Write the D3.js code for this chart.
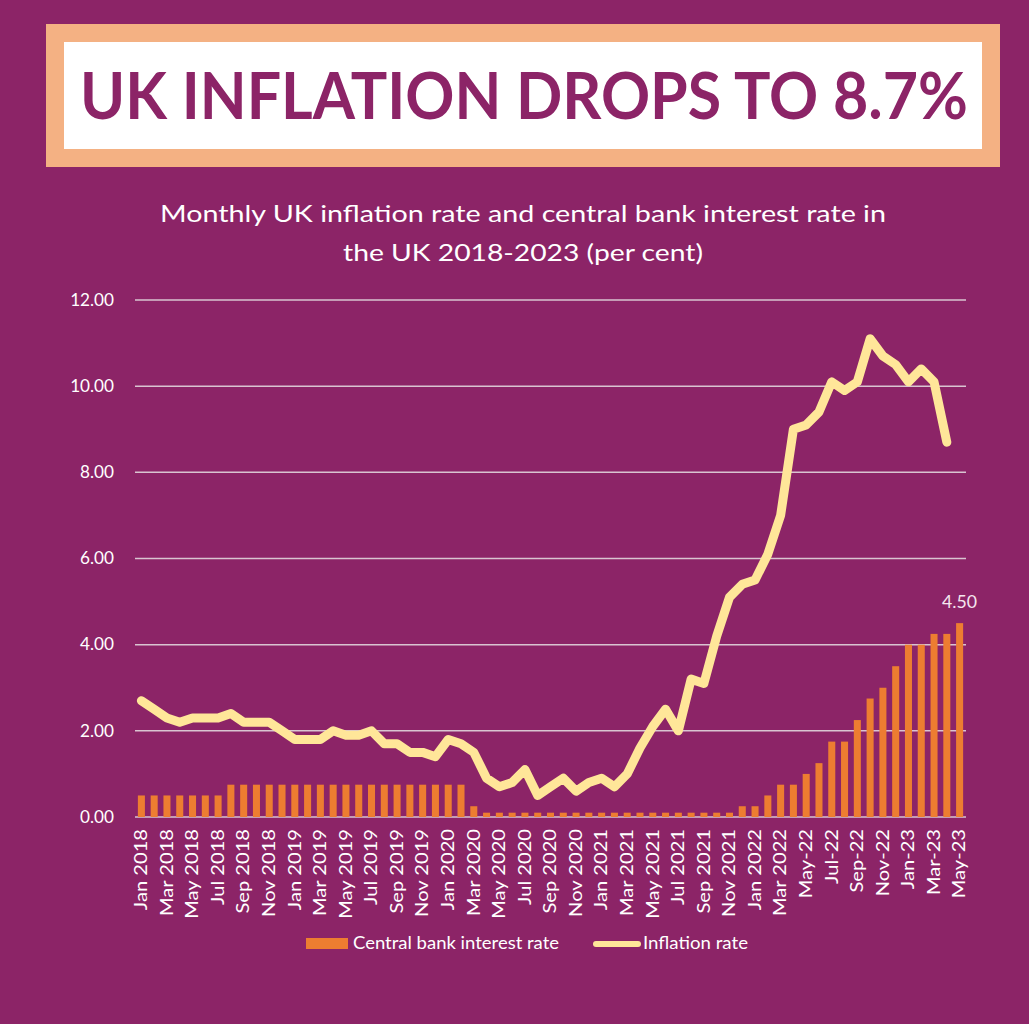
<!DOCTYPE html>
<html>
<head>
<meta charset="utf-8">
<script src="https://cdn.jsdelivr.net/npm/d3@7"></script>
<style>
  html, body { margin: 0; padding: 0; background: #8C2467; }
  svg { display: block; }
</style>
</head>
<body>
<svg id="chart" width="1029" height="1024"></svg>
<script>
const categories = [
  "Jan 2018","Feb 2018","Mar 2018","Apr 2018","May 2018","Jun 2018","Jul 2018","Aug 2018","Sep 2018","Oct 2018","Nov 2018","Dec 2018",
  "Jan 2019","Feb 2019","Mar 2019","Apr 2019","May 2019","Jun 2019","Jul 2019","Aug 2019","Sep 2019","Oct 2019","Nov 2019","Dec 2019",
  "Jan 2020","Feb 2020","Mar 2020","Apr 2020","May 2020","Jun 2020","Jul 2020","Aug 2020","Sep 2020","Oct 2020","Nov 2020","Dec 2020",
  "Jan 2021","Feb 2021","Mar 2021","Apr 2021","May 2021","Jun 2021","Jul 2021","Aug 2021","Sep 2021","Oct 2021","Nov 2021","Dec 2021",
  "Jan 2022","Feb 2022","Mar 2022","Apr-22","May-22","Jun-22","Jul-22","Aug-22","Sep-22","Oct-22","Nov-22","Dec-22",
  "Jan-23","Feb-23","Mar-23","Apr-23","May-23"
];
const tickLabels = [
  "Jan 2018","Mar 2018","May 2018","Jul 2018","Sep 2018","Nov 2018",
  "Jan 2019","Mar 2019","May 2019","Jul 2019","Sep 2019","Nov 2019",
  "Jan 2020","Mar 2020","May 2020","Jul 2020","Sep 2020","Nov 2020",
  "Jan 2021","Mar 2021","May 2021","Jul 2021","Sep 2021","Nov 2021",
  "Jan 2022","Mar 2022","May-22","Jul-22","Sep-22","Nov-22",
  "Jan-23","Mar-23","May-23"
];
const interestRate = [
  0.5,0.5,0.5,0.5,0.5,0.5,0.5,0.75,0.75,0.75,0.75,0.75,
  0.75,0.75,0.75,0.75,0.75,0.75,0.75,0.75,0.75,0.75,0.75,0.75,
  0.75,0.75,0.25,0.1,0.1,0.1,0.1,0.1,0.1,0.1,0.1,0.1,
  0.1,0.1,0.1,0.1,0.1,0.1,0.1,0.1,0.1,0.1,0.1,0.25,
  0.25,0.5,0.75,0.75,1.0,1.25,1.75,1.75,2.25,2.75,3.0,3.5,
  4.0,4.0,4.25,4.25,4.5
];
const inflationRate = [
  2.7,2.5,2.3,2.2,2.3,2.3,2.3,2.4,2.2,2.2,2.2,2.0,
  1.8,1.8,1.8,2.0,1.9,1.9,2.0,1.7,1.7,1.5,1.5,1.4,
  1.8,1.7,1.5,0.9,0.7,0.8,1.1,0.5,0.7,0.9,0.6,0.8,
  0.9,0.7,1.0,1.6,2.1,2.5,2.0,3.2,3.1,4.2,5.1,5.4,
  5.5,6.1,7.0,9.0,9.1,9.4,10.1,9.9,10.1,11.1,10.7,10.5,
  10.1,10.4,10.1,8.7,null
];
const yTicks = [0, 2, 4, 6, 8, 10, 12];

const BG = "#8C2467";
const svg = d3.select("#chart");
const FONT = "Lato, 'Open Sans', sans-serif";

svg.append("rect").attr("width", 1029).attr("height", 1024).attr("fill", BG);

// Title box
svg.append("rect").attr("x", 46).attr("y", 24).attr("width", 954).attr("height", 143).attr("fill", "#F4B183");
svg.append("rect").attr("x", 64).attr("y", 42).attr("width", 918).attr("height", 107).attr("fill", "#FFFFFF");
svg.append("text")
  .attr("x", 524).attr("y", 119)
  .attr("text-anchor", "middle")
  .attr("font-family", FONT).attr("font-weight", 700).attr("font-size", 65)
  .attr("fill", "#8C2467")
  .attr("textLength", 888).attr("lengthAdjust", "spacingAndGlyphs")
  .text("UK INFLATION DROPS TO 8.7%");

// Subtitle
const sub = [
  {t: "Monthly UK inflation rate and central bank interest rate in", w: 726},
  {t: "the UK 2018-2023 (per cent)", w: 360}
];
svg.selectAll("text.sub").data(sub).join("text")
  .attr("class", "sub")
  .attr("x", 523).attr("y", (d, i) => 222 + i * 39)
  .attr("text-anchor", "middle")
  .attr("font-family", FONT).attr("font-size", 23)
  .attr("fill", "#FFFFFF")
  .attr("textLength", d => d.w).attr("lengthAdjust", "spacingAndGlyphs")
  .text(d => d.t);

// Scales
const x = d3.scaleBand().domain(categories).range([135, 966]).paddingInner(0.45).paddingOuter(0.225);
const y = d3.scaleLinear().domain([0, 12]).range([817, 300]);

// Gridlines
svg.append("g").selectAll("line").data(yTicks).join("line")
  .attr("x1", 135).attr("x2", 966)
  .attr("y1", d => y(d)).attr("y2", d => y(d))
  .attr("stroke", "#D9C4D1").attr("stroke-width", 1.5);

// Y axis labels
const yAxis = d3.axisLeft(y).tickValues(yTicks).tickFormat(d3.format(".2f")).tickSize(0).tickPadding(0);
const gy = svg.append("g").attr("transform", "translate(114,0)").call(yAxis);
gy.select(".domain").remove();
gy.selectAll("text").attr("font-family", FONT).attr("font-size", 16.5).attr("fill", "#FFFFFF")
  .attr("transform", "scale(1.04,1)");

// Bars
svg.append("g").selectAll("rect").data(categories.map((c, i) => ({c, v: interestRate[i]}))).join("rect")
  .attr("x", d => x(d.c)).attr("width", x.bandwidth())
  .attr("y", d => y(d.v)).attr("height", d => y(0) - y(d.v))
  .attr("fill", "#ED7D31");

// Line
const line = d3.line()
  .defined(d => d.v !== null)
  .x(d => x(d.c) + x.bandwidth() / 2)
  .y(d => y(d.v));
svg.append("path")
  .datum(categories.map((c, i) => ({c, v: inflationRate[i]})))
  .attr("d", line)
  .attr("fill", "none").attr("stroke", "#FFE699").attr("stroke-width", 9)
  .attr("stroke-linejoin", "round").attr("stroke-linecap", "round");

// Last bar label
const lastC = categories[categories.length - 1];
svg.append("text")
  .attr("x", x(lastC) + x.bandwidth() / 2).attr("y", y(interestRate[interestRate.length - 1]) - 15)
  .attr("text-anchor", "middle")
  .attr("font-family", FONT).attr("font-size", 16.5)
  .attr("fill", "#F5E6EF")
  .attr("textLength", 35).attr("lengthAdjust", "spacingAndGlyphs")
  .text(d3.format(".2f")(interestRate[interestRate.length - 1]));

// X axis labels
const stretch = 1.22;
const xAxis = d3.axisBottom(x).tickValues(tickLabels).tickSize(0).tickPadding(0);
const gx = svg.append("g").attr("transform", "translate(0,817)").call(xAxis);
gx.select(".domain").remove();
gx.selectAll("text")
  .attr("font-family", FONT).attr("font-size", 16.5).attr("fill", "#FFFFFF")
  .attr("text-anchor", "end")
  .attr("transform", `rotate(-90) scale(${stretch},1)`)
  .attr("x", -12 / stretch).attr("y", 0).attr("dy", "0.35em");

// Legend
const lg = svg.append("g");
lg.append("rect").attr("x", 306).attr("y", 938).attr("width", 42).attr("height", 11).attr("fill", "#ED7D31");
lg.append("text").attr("x", 353).attr("y", 949).attr("font-family", FONT).attr("font-size", 17.5).attr("fill", "#FFFFFF")
  .attr("textLength", 206).attr("lengthAdjust", "spacingAndGlyphs")
  .text("Central bank interest rate");
lg.append("line").attr("x1", 596).attr("x2", 638).attr("y1", 944).attr("y2", 944)
  .attr("stroke", "#FFE699").attr("stroke-width", 6).attr("stroke-linecap", "round");
lg.append("text").attr("x", 643).attr("y", 949).attr("font-family", FONT).attr("font-size", 17.5).attr("fill", "#FFFFFF")
  .attr("textLength", 105).attr("lengthAdjust", "spacingAndGlyphs")
  .text("Inflation rate");
</script>
</body>
</html>
